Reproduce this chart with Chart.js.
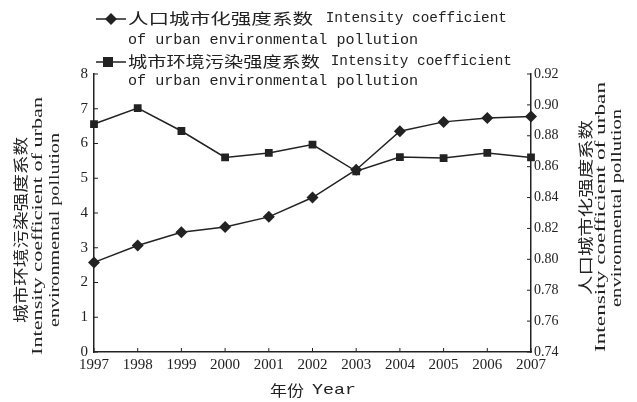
<!DOCTYPE html>
<html>
<head>
<meta charset="utf-8">
<script src="https://cdn.jsdelivr.net/npm/chart.js@4.4.1/dist/chart.umd.min.js"></script>
<style>
  html, body { margin: 0; padding: 0; background: #fff; }
  #wrap { width: 637px; height: 402px; }
</style>
</head>
<body>
<div id="wrap"><canvas id="chart" width="637" height="402"></canvas></div>
<script>
// data
var years = ['1997', '1998', '1999', '2000', '2001', '2002', '2003', '2004', '2005', '2006', '2007'];
var urbanIntensity = [0.798, 0.809, 0.8175, 0.821, 0.8275, 0.840, 0.858, 0.883, 0.889, 0.8915, 0.8925];
var pollutionIntensity = [6.56, 7.02, 6.36, 5.60, 5.73, 5.97, 5.20, 5.61, 5.58, 5.73, 5.60];
var leftTicks = [0, 8, 1];
var rightTicks = [0.74, 0.92, 0.02];

var legendLines = [
    ['人口城市化强度系数', ' Intensity coefficient', 'of urban environmental pollution'],
    ['城市环境污染强度系数', ' Intensity coefficient', 'of urban environmental pollution']
];
var ink = '#222';
var cjk = '"Noto Sans CJK SC", sans-serif';
var mono = '"Liberation Mono", "DejaVu Sans Mono", monospace';
var serif = '"Liberation Serif", "DejaVu Serif", serif';

// draw text squeezed/stretched to a given width
function fitText(ctx, text, x, y, width) {
    var w = ctx.measureText(text).width;
    ctx.save();
    ctx.translate(x, y);
    ctx.scale(width / w, 1);
    ctx.fillText(text, 0, 0);
    ctx.restore();
}

function marker(ctx, style, x, y) {
    ctx.beginPath();
    if (style == 'rectRot') {
        ctx.moveTo(x, y - 6); ctx.lineTo(x + 6, y); ctx.lineTo(x, y + 6); ctx.lineTo(x - 6, y);
    } else {
        ctx.rect(x - 5, y - 5, 10, 10);
    }
    ctx.closePath();
    ctx.fill();
}

var extras = {
    id: 'extras',
    afterDraw: function(chart) {
        var ctx = chart.ctx;
        var area = chart.chartArea;
        var sx = chart.scales.x, sy = chart.scales.y, sy1 = chart.scales.y1;
        ctx.save();
        ctx.strokeStyle = ink;
        ctx.fillStyle = ink;
        ctx.lineWidth = 1;
        // inward tick marks
        sx.ticks.forEach(function(t, i) {
            var p = sx.getPixelForTick(i);
            ctx.beginPath(); ctx.moveTo(p, area.bottom); ctx.lineTo(p, area.bottom - 4); ctx.stroke();
        });
        sy.ticks.forEach(function(t, i) {
            var p = sy.getPixelForTick(i);
            ctx.beginPath(); ctx.moveTo(area.left, p); ctx.lineTo(area.left + 4, p); ctx.stroke();
        });
        sy1.ticks.forEach(function(t, i) {
            var p = sy1.getPixelForTick(i);
            ctx.beginPath(); ctx.moveTo(area.right, p); ctx.lineTo(area.right - 4, p); ctx.stroke();
        });

        // legend
        var styles = ['rectRot', 'rect'];
        var rows = [[18, 40], [61, 81]];
        ctx.textBaseline = 'middle';
        ctx.textAlign = 'left';
        for (var i = 0; i < 2; i++) {
            var y = rows[i][0];
            ctx.lineWidth = 1.5;
            ctx.beginPath(); ctx.moveTo(96, y + 1); ctx.lineTo(126, y + 1); ctx.stroke();
            marker(ctx, styles[i], i == 0 ? 111 : 108, y + 1);
            ctx.font = '15px ' + cjk;
            fitText(ctx, legendLines[i][0], 128, y, i == 0 ? 185 : 192);
            ctx.font = '15px ' + mono;
            fitText(ctx, legendLines[i][1], i == 0 ? 317 : 322, y, 190);
            fitText(ctx, legendLines[i][2], 128, rows[i][1], 290);
        }

        // left axis title (rotated, reads upward)
        ctx.save();
        ctx.translate(20, 230);
        ctx.rotate(-Math.PI / 2);
        ctx.textAlign = 'left';
        ctx.font = '15px ' + cjk;
        fitText(ctx, '城市环境污染强度系数', -93, 0, 186);
        ctx.font = '15px ' + serif;
        fitText(ctx, 'Intensity coefficient of urban', -125, 18, 258);
        fitText(ctx, 'environmental pollution', -97, 35, 194);
        ctx.restore();

        // right axis title
        ctx.save();
        ctx.translate(585, 215);
        ctx.rotate(-Math.PI / 2);
        ctx.font = '15px ' + cjk;
        fitText(ctx, '人口城市化强度系数', -80, 0, 175);
        ctx.font = '15px ' + serif;
        fitText(ctx, 'Intensity coefficient of urban', -137, 16, 270);
        fitText(ctx, 'environmental pollution', -92, 32, 198);
        ctx.restore();

        // x axis title
        ctx.textAlign = 'left';
        ctx.font = '15px ' + cjk;
        fitText(ctx, '年份', 270, 390, 34);
        ctx.font = '15px ' + mono;
        fitText(ctx, 'Year', 312, 390, 44);
        ctx.restore();
    }
};

var ctx = document.getElementById('chart').getContext('2d');
var chart = new Chart(ctx, {
    type: 'line',
    data: {
        labels: years,
        datasets: [{
            label: '人口城市化强度系数',
            data: urbanIntensity,
            yAxisID: 'y1',
            borderColor: ink,
            backgroundColor: ink,
            borderWidth: 1.5,
            pointStyle: 'rectRot',
            pointRadius: 6,
            pointBorderWidth: 0,
            tension: 0
        }, {
            label: '城市环境污染强度系数',
            data: pollutionIntensity,
            yAxisID: 'y',
            borderColor: ink,
            backgroundColor: ink,
            borderWidth: 1.5,
            pointStyle: 'rect',
            pointRadius: 5.5,
            pointBorderWidth: 0,
            tension: 0
        }]
    },
    options: {
        responsive: false,
        animation: false,
        layout: { padding: { top: 74, left: 0, right: 0, bottom: 0 } },
        plugins: {
            legend: { display: false },
            tooltip: { enabled: false }
        },
        scales: {
            x: {
                offset: false,
                grid: { drawOnChartArea: false, drawTicks: false },
                border: { color: ink, width: 1.5 },
                ticks: {
                    color: ink, padding: 4, maxRotation: 0, autoSkip: false,
                    font: { family: serif, size: 15 }
                },
                afterFit: function(s) { s.height = 50; }
            },
            y: {
                position: 'left',
                min: leftTicks[0], max: leftTicks[1],
                grid: { drawOnChartArea: false, drawTicks: false },
                border: { color: ink, width: 1.5 },
                ticks: {
                    stepSize: leftTicks[2], color: ink, padding: 6,
                    font: { family: serif, size: 15 }
                },
                afterFit: function(s) { s.width = 94; }
            },
            y1: {
                position: 'right',
                min: rightTicks[0], max: rightTicks[1],
                grid: { drawOnChartArea: false, drawTicks: false },
                border: { color: ink, width: 1.5 },
                ticks: {
                    stepSize: rightTicks[2], color: ink, padding: 3,
                    font: { family: serif, size: 14 },
                    callback: function(v) { return v.toFixed(2); }
                },
                afterFit: function(s) { s.width = 106; }
            }
        }
    },
    plugins: [extras]
});
</script>
</body>
</html>
